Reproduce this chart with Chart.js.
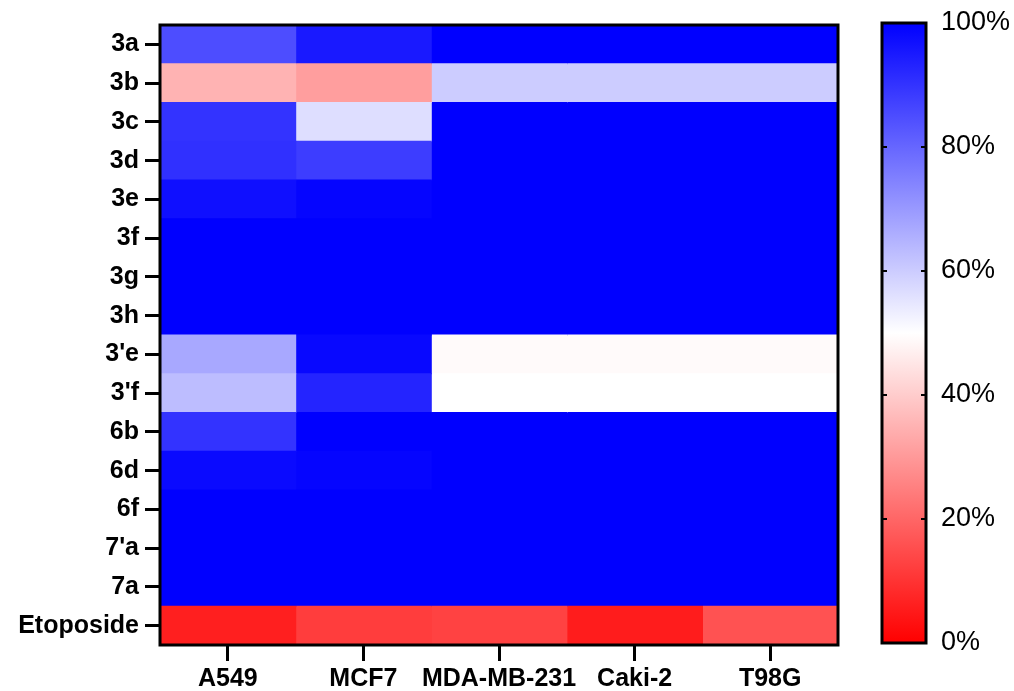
<!DOCTYPE html>
<html>
<head>
<meta charset="utf-8">
<script src="https://cdn.jsdelivr.net/npm/chart.js@4.4.1/dist/chart.umd.min.js"></script>
<style>
	html, body { margin: 0; padding: 0; background: #fff; }
	#heatWrap { position: absolute; left: 0; top: 0; width: 860px; height: 691px; }
	#barWrap { position: absolute; left: 860px; top: 0; width: 154px; height: 691px; }
</style>
</head>
<body>
<div id="heatWrap"><canvas id="heatChart"></canvas></div>
<div id="barWrap"><canvas id="scaleChart"></canvas></div>
<script>
var compounds = [ "3a", "3b", "3c", "3d", "3e", "3f", "3g", "3h", "3'e", "3'f", "6b", "6d", "6f", "7'a", "7a", "Etoposide" ];
var cellLines = [ "A549", "MCF7", "MDA-MB-231", "Caki-2", "T98G" ];

// % values, one array per cell line (same order as compounds)
var a549 = [ 85, 35, 90, 90.5, 97, 100, 100, 100, 67, 63, 90, 98, 100, 100, 100, 6 ];
var mcf7 = [ 95, 31, 56.5, 88, 99, 100, 100, 100, 98.5, 93, 100, 99, 100, 100, 100, 12 ];
var mdaMb231 = [ 100, 60, 100, 100, 100, 100, 100, 100, 49, 50, 100, 100, 100, 100, 100, 13 ];
var caki2 = [ 100, 60, 100, 100, 100, 100, 100, 100, 49, 50, 100, 100, 100, 100, 100, 5.5 ];
var t98g = [ 100, 60, 100, 100, 100, 100, 100, 100, 49, 50, 100, 100, 100, 100, 100, 16 ];

var scaleTicks = [ 0, 20, 40, 60, 80, 100 ];

var columns = [ a549, mcf7, mdaMb231, caki2, t98g ];

// red (0%) -> white (50%) -> blue (100%)
function valueColor( v ) {
	var r, g, b;
	if ( v >= 50 ) {
		var t = ( v - 50 ) / 50;
		r = g = Math.round( 255 * ( 1 - t ) );
		b = 255;
	} else {
		var s = v / 50;
		r = 255;
		g = b = Math.round( 255 * s );
	}
	return "rgb(" + r + "," + g + "," + b + ")";
}

var frame = {
	id: "frame",
	afterDatasetsDraw: function( chart ) {
		var a = chart.chartArea;
		var ctx = chart.ctx;
		ctx.save();
		ctx.strokeStyle = "#000";
		ctx.lineWidth = 3;
		ctx.strokeRect( a.left, a.top, a.right - a.left, a.bottom - a.top );
		ctx.restore();
	}
};

var labelFont = { family: "Liberation Sans, Arial, sans-serif", size: 25, weight: "bold" };

var datasets = columns.map( function( vals, ci ) {
	return {
		label: cellLines[ ci ],
		data: compounds.map( function() { return [ ci, ci + 1 ]; } ),
		backgroundColor: vals.map( valueColor ),
		borderWidth: 0,
		borderSkipped: false,
		inflateAmount: 0.6,
		grouped: false,
		barPercentage: 1,
		categoryPercentage: 1
	};
} );

new Chart( document.getElementById( "heatChart" ).getContext( "2d" ), {
	type: "bar",
	data: { labels: compounds, datasets: datasets },
	plugins: [ frame ],
	options: {
		indexAxis: "y",
		responsive: true,
		maintainAspectRatio: false,
		animation: false,
		layout: { padding: { top: 25, right: 22, left: 0, bottom: 0 } },
		plugins: { legend: { display: false }, tooltip: { enabled: false } },
		scales: {
			x: {
				type: "linear",
				min: 0,
				max: cellLines.length,
				afterBuildTicks: function( scale ) {
					scale.ticks = cellLines.map( function( c, i ) { return { value: i + 0.5 }; } );
				},
				afterFit: function( scale ) { scale.height = 46; },
				ticks: {
					autoSkip: false,
					maxRotation: 0,
					padding: 3,
					color: "#000",
					font: labelFont,
					callback: function( value, index ) { return cellLines[ index ]; }
				},
				grid: { drawOnChartArea: false, tickLength: 16, lineWidth: 3, color: "#000" },
				border: { display: false }
			},
			y: {
				type: "category",
				afterFit: function( scale ) { scale.width = 160; },
				ticks: { autoSkip: false, padding: 6, color: "#000", font: labelFont },
				grid: { drawOnChartArea: false, offset: false, tickLength: 15, lineWidth: 3, color: "#000" },
				border: { display: false }
			}
		}
	}
} );

// colour scale bar
var scaleFrame = {
	id: "scaleFrame",
	afterDatasetsDraw: function( chart ) {
		var a = chart.chartArea;
		var ctx = chart.ctx;
		var y = chart.scales.y;
		ctx.save();
		ctx.strokeStyle = "#000";
		ctx.lineWidth = 3;
		ctx.strokeRect( a.left, a.top, a.right - a.left, a.bottom - a.top );
		ctx.lineWidth = 2;
		scaleTicks.forEach( function( v ) {
			if ( v === 0 || v === 100 ) { return; }
			var py = Math.round( y.getPixelForValue( v ) );
			ctx.beginPath();
			ctx.moveTo( a.left, py ); ctx.lineTo( a.left + 5, py );
			ctx.moveTo( a.right - 5, py ); ctx.lineTo( a.right, py );
			ctx.stroke();
		} );
		ctx.restore();
	}
};

new Chart( document.getElementById( "scaleChart" ).getContext( "2d" ), {
	type: "bar",
	data: {
		labels: [ "" ],
		datasets: [ {
			data: [ 100 ],
			backgroundColor: function( context ) {
				var a = context.chart.chartArea;
				if ( !a ) { return "#fff"; }
				var g = context.chart.ctx.createLinearGradient( 0, a.bottom, 0, a.top );
				g.addColorStop( 0, valueColor( 0 ) );
				g.addColorStop( 0.5, valueColor( 50 ) );
				g.addColorStop( 1, valueColor( 100 ) );
				return g;
			},
			borderWidth: 0,
			barPercentage: 1,
			categoryPercentage: 1
		} ]
	},
	plugins: [ scaleFrame ],
	options: {
		responsive: true,
		maintainAspectRatio: false,
		animation: false,
		layout: { padding: { top: 23, bottom: 48, left: 22, right: 0 } },
		plugins: { legend: { display: false }, tooltip: { enabled: false } },
		scales: {
			x: { display: false },
			y: {
				position: "right",
				min: 0,
				max: 100,
				afterBuildTicks: function( scale ) {
					scale.ticks = scaleTicks.map( function( v ) { return { value: v }; } );
				},
				afterFit: function( scale ) {
					scale.width = 88;
					scale.paddingTop = 0;
					scale.paddingBottom = 0;
				},
				ticks: {
					padding: 15,
					color: "#000",
					font: { family: "Liberation Sans, Arial, sans-serif", size: 27 },
					callback: function( value ) { return value + "%"; }
				},
				grid: { display: false, drawTicks: false },
				border: { display: false }
			}
		}
	}
} );
</script>
</body>
</html>
